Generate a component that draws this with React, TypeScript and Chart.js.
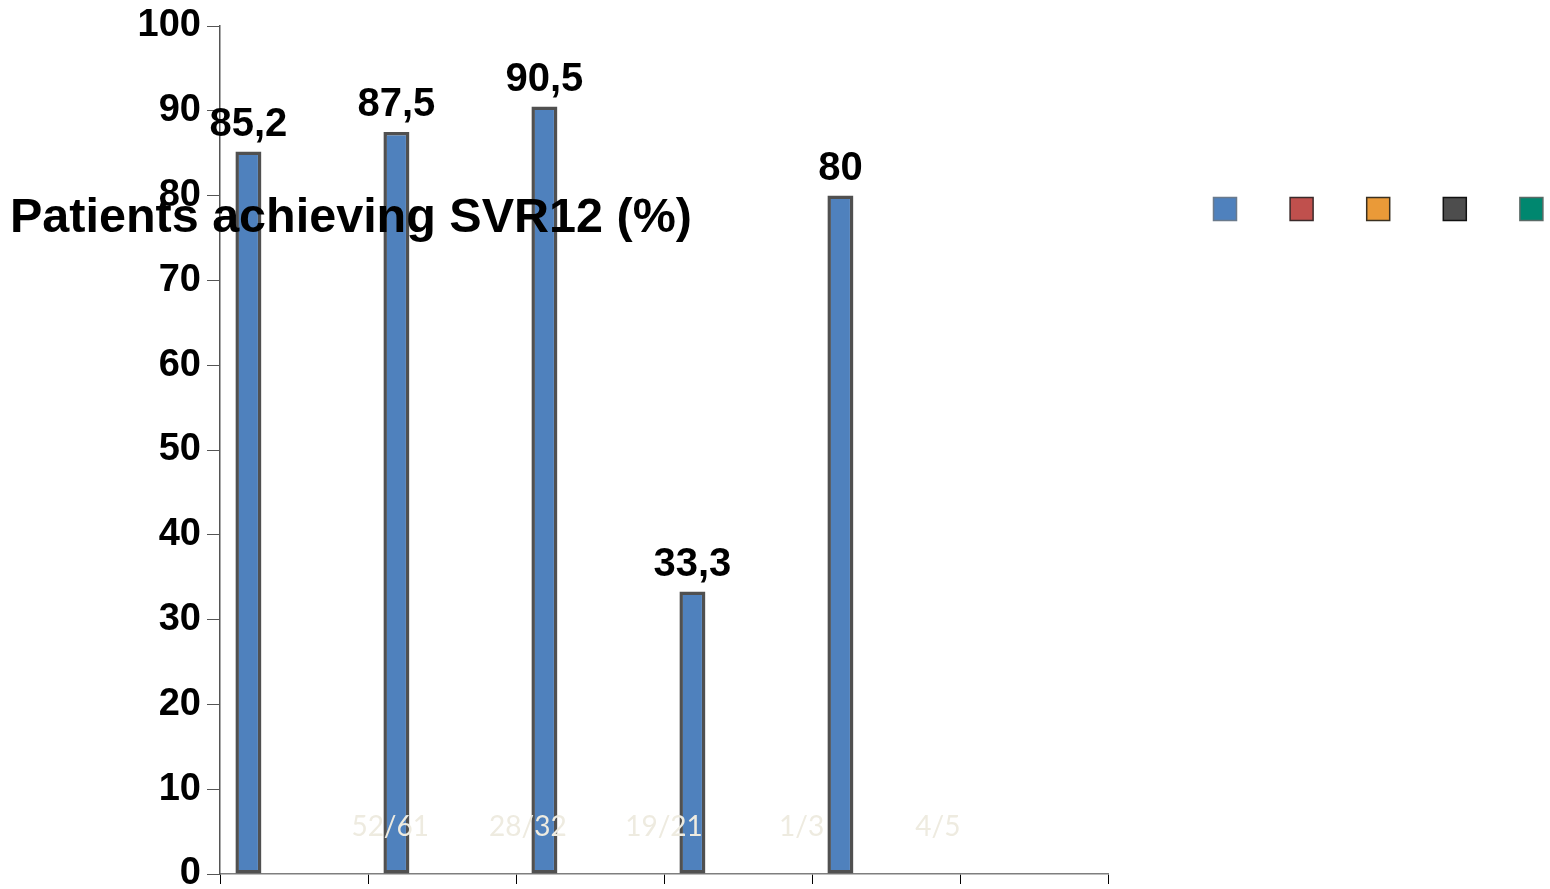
import React, { useEffect, useRef } from "react";
import { Chart, registerables } from "chart.js";

Chart.register(...registerables);

const categories = ["", "", "", "", "", ""];
const seriesNames = ["Series 1", "Series 2", "Series 3", "Series 4", "Series 5"];
const series1 = [85.2, 87.5, 90.5, 33.3, 80, null];
const series2 = [null, null, null, null, null, null];
const series3 = [null, null, null, null, null, null];
const series4 = [null, null, null, null, null, null];
const series5 = [null, null, null, null, null, null];
const seriesColors = ["#4F81BD", "#C0504D", "#EA9A38", "#4D4D4D", "#00876F"];
const legendBorders = ["#6A7A8C", "#3A2A2A", "#3A3020", "#111111", "#5A6A66"];
const yTicks = [0, 10, 20, 30, 40, 50, 60, 70, 80, 90, 100];
const yTitle = "Patients achieving SVR12 (%)";
const fractionLabels = ["52/61", "28/32", "19/21", "1/3", "4/5"];
const fractionPositions = [0.65, 1.58, 2.5, 3.43, 4.35];
const fractionLevel = 5.6;

const BOLD = 'Arial, "Liberation Sans", sans-serif';

const overlayPlugin = {
  id: "overlay",
  afterDatasetsDraw(chart: any) {
    const ctx = chart.ctx;
    const meta = chart.getDatasetMeta(0);
    ctx.save();
    // value labels
    ctx.fillStyle = "#000";
    ctx.font = `bold 40px ${BOLD}`;
    ctx.textAlign = "center";
    ctx.textBaseline = "alphabetic";
    meta.data.forEach((bar: any, i: number) => {
      const v = series1[i];
      if (v === null || v === undefined) return;
      const txt = String(v).replace(".", ",");
      ctx.fillText(txt, bar.x, bar.y - 16);
    });
    // faint fraction labels
    const xs = chart.scales.x;
    const ys = chart.scales.y;
    ctx.fillStyle = "#EEEBE0";
    ctx.font = '28px Lato, "Open Sans", sans-serif';
    ctx.textBaseline = "middle";
    fractionLabels.forEach((t, i) => {
      ctx.fillText(t, xs.getPixelForValue(fractionPositions[i]), ys.getPixelForValue(fractionLevel));
    });
    // y title (horizontal, overlapping)
    ctx.fillStyle = "#000";
    ctx.font = `bold 48.5px ${BOLD}`;
    ctx.textAlign = "left";
    ctx.textBaseline = "alphabetic";
    ctx.fillText(yTitle, 10, 232);
    // legend squares (no text)
    const size = 23;
    const startX = 1225;
    const step = 76.6;
    const cy = 209;
    seriesColors.forEach((c, i) => {
      const cx = startX + i * step;
      ctx.fillStyle = c;
      ctx.fillRect(cx - size / 2, cy - size / 2, size, size);
      ctx.strokeStyle = legendBorders[i];
      ctx.lineWidth = 1.5;
      ctx.strokeRect(cx - size / 2, cy - size / 2, size, size);
    });
    ctx.restore();
  },
};

export default function App() {
  const ref = useRef<HTMLCanvasElement | null>(null);
  useEffect(() => {
    if (!ref.current) return;
    const allSeries = [series1, series2, series3, series4, series5];
    const chart = new Chart(ref.current, {
      type: "bar",
      data: {
        labels: categories,
        datasets: allSeries.map((d, i) => ({
          label: seriesNames[i],
          data: d,
          backgroundColor: seriesColors[i],
          borderColor: "#505050",
          borderWidth: 3.5,
          borderSkipped: false,
          categoryPercentage: 0.77,
          barPercentage: 1.14,
        })),
      },
      options: {
        responsive: false,
        animation: false,
        layout: { padding: { left: 0, right: 442, top: 26, bottom: 0 } },
        plugins: {
          legend: { display: false },
          title: { display: false },
          tooltip: { enabled: false },
        },
        scales: {
          x: {
            offset: true,
            grid: {
              offset: true,
              drawOnChartArea: false,
              drawTicks: true,
              tickLength: 10,
              color: "#000",
            },
            border: { color: "#7F7F7F", width: 1.5 },
            ticks: { display: false },
            afterFit(scale: any) {
              scale.height = 15;
              scale.paddingLeft = 0;
              scale.paddingRight = 0;
            },
          },
          y: {
            min: 0,
            max: 100,
            afterBuildTicks(scale: any) {
              scale.ticks = yTicks.map((v) => ({ value: v }));
            },
            grid: {
              drawOnChartArea: false,
              drawTicks: true,
              tickLength: 13,
              color: "#555",
            },
            border: { color: "#555", width: 1.5 },
            ticks: {
              color: "#000",
              font: { family: BOLD, size: 38, weight: "bold" },
              padding: 6,
            },
            afterFit(scale: any) {
              scale.width = 220;
              scale.paddingTop = 0;
              scale.paddingBottom = 0;
            },
          },
        },
      },
      plugins: [overlayPlugin],
    });
    return () => chart.destroy();
  }, []);
  return (
    <div style={{ position: "fixed", left: 0, top: 0, width: 1550, height: 889, background: "#fff" }}>
      <canvas ref={ref} width={1550} height={889} style={{ width: 1550, height: 889, display: "block" }} />
    </div>
  );
}
